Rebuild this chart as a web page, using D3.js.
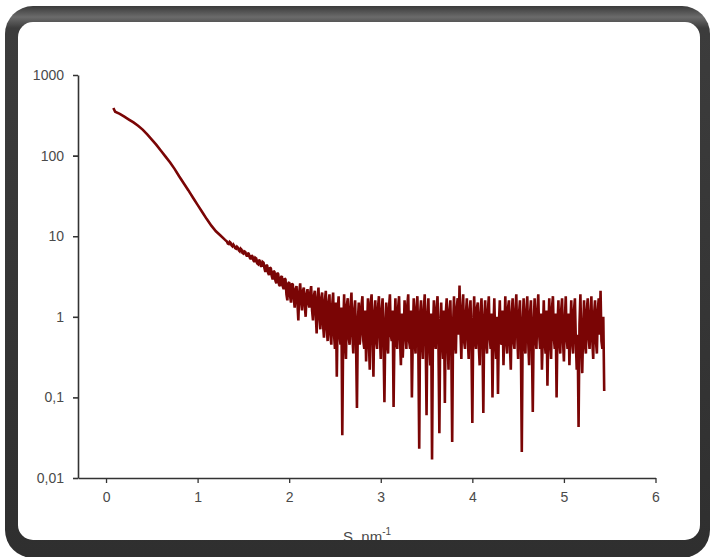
<!DOCTYPE html>
<html>
<head>
<meta charset="utf-8">
<script src="https://cdn.jsdelivr.net/npm/d3@7"></script>
<style>
  html, body { margin: 0; padding: 0; background: #ffffff; }
  svg { display: block; }
</style>
</head>
<body>
<svg id="chart" width="712" height="557"></svg>
<script>
// ---- data ----
const xTicks = [0, 1, 2, 3, 4, 5, 6];
const xTickLabels = ["0", "1", "2", "3", "4", "5", "6"];
const yTicks = [0.01, 0.1, 1, 10, 100, 1000];
const yTickLabels = ["0,01", "0,1", "1", "10", "100", "1000"];

// smooth (low-angle) part of the curve
const sSmooth = [0.08, 0.10, 0.15, 0.20, 0.25, 0.30, 0.35, 0.40, 0.45, 0.50,
                 0.55, 0.60, 0.65, 0.70, 0.75, 0.80, 0.85, 0.90, 0.95, 1.00,
                 1.05, 1.10, 1.15, 1.20, 1.25, 1.30];
const iSmooth = [390, 350, 330, 305, 280, 258, 235, 210, 183, 158,
                 136, 115, 97, 82, 68, 55, 45, 37, 30, 24.5,
                 20, 16.3, 13.5, 11.5, 10.2, 9.0];

// noisy (wide-angle) part of the curve
const sNoisy = [
  1.32,1.33,1.34,1.35,1.36,1.37,1.38,1.39,1.40,1.41,1.42,1.43,1.44,1.45,1.46,1.47,1.48,1.49,1.50,1.51,
  1.52,1.53,1.54,1.55,1.56,1.57,1.58,1.59,1.60,1.61,1.62,1.63,1.64,1.65,1.66,1.67,1.68,1.69,1.70,1.71,
  1.72,1.73,1.74,1.75,1.76,1.77,1.78,1.79,1.80,1.81,1.82,1.83,1.84,1.85,1.86,1.87,1.88,1.89,1.90,1.91,
  1.92,1.93,1.94,1.95,1.96,1.97,1.98,1.99,2.00,2.01,2.02,2.03,2.04,2.05,2.06,2.07,2.08,2.09,2.10,2.11,
  2.12,2.13,2.14,2.15,2.16,2.17,2.18,2.19,2.20,2.21,2.22,2.23,2.24,2.25,2.26,2.27,2.28,2.29,2.30,2.31,
  2.32,2.33,2.34,2.35,2.36,2.37,2.38,2.39,2.40,2.41,2.42,2.43,2.44,2.45,2.46,2.47,2.48,2.49,2.50,2.51,
  2.52,2.53,2.54,2.55,2.56,2.57,2.58,2.59,2.60,2.61,2.62,2.63,2.64,2.65,2.66,2.67,2.68,2.69,2.70,2.71,
  2.72,2.73,2.74,2.75,2.76,2.77,2.78,2.79,2.80,2.81,2.82,2.83,2.84,2.85,2.86,2.87,2.88,2.89,2.90,2.91,
  2.92,2.93,2.94,2.95,2.96,2.97,2.98,2.99,3.00,3.01,3.02,3.03,3.04,3.05,3.06,3.07,3.08,3.09,3.10,3.11,
  3.12,3.13,3.14,3.15,3.16,3.17,3.18,3.19,3.20,3.21,3.22,3.23,3.24,3.25,3.26,3.27,3.28,3.29,3.30,3.31,
  3.32,3.33,3.34,3.35,3.36,3.37,3.38,3.39,3.40,3.41,3.42,3.43,3.44,3.45,3.46,3.47,3.48,3.49,3.50,3.51,
  3.52,3.53,3.54,3.55,3.56,3.57,3.58,3.59,3.60,3.61,3.62,3.63,3.64,3.65,3.66,3.67,3.68,3.69,3.70,3.71,
  3.72,3.73,3.74,3.75,3.76,3.77,3.78,3.79,3.80,3.81,3.82,3.83,3.84,3.85,3.86,3.87,3.88,3.89,3.90,3.91,
  3.92,3.93,3.94,3.95,3.96,3.97,3.98,3.99,4.00,4.01,4.02,4.03,4.04,4.05,4.06,4.07,4.08,4.09,4.10,4.11,
  4.12,4.13,4.14,4.15,4.16,4.17,4.18,4.19,4.20,4.21,4.22,4.23,4.24,4.25,4.26,4.27,4.28,4.29,4.30,4.31,
  4.32,4.33,4.34,4.35,4.36,4.37,4.38,4.39,4.40,4.41,4.42,4.43,4.44,4.45,4.46,4.47,4.48,4.49,4.50,4.51,
  4.52,4.53,4.54,4.55,4.56,4.57,4.58,4.59,4.60,4.61,4.62,4.63,4.64,4.65,4.66,4.67,4.68,4.69,4.70,4.71,
  4.72,4.73,4.74,4.75,4.76,4.77,4.78,4.79,4.80,4.81,4.82,4.83,4.84,4.85,4.86,4.87,4.88,4.89,4.90,4.91,
  4.92,4.93,4.94,4.95,4.96,4.97,4.98,4.99,5.00,5.01,5.02,5.03,5.04,5.05,5.06,5.07,5.08,5.09,5.10,5.11,
  5.12,5.13,5.14,5.15,5.16,5.17,5.18,5.19,5.20,5.21,5.22,5.23,5.24,5.25,5.26,5.27,5.28,5.29,5.30,5.31,
  5.32,5.33,5.34,5.35,5.36,5.37,5.38,5.39,5.40,5.41,5.42,5.43,5.44
];
const iNoisy = [
  8.6,8.1,8.0,8.5,8.3,7.7,7.5,7.9,7.6,7.1,7.0,7.4,7.2,6.7,6.5,7.0,6.8,6.2,6.1,6.5,
  6.4,5.9,5.6,6.2,6.0,5.4,5.2,5.8,5.6,5.0,4.8,5.4,5.3,4.6,4.5,5.1,4.9,4.3,4.2,4.8,
  4.7,4.0,3.6,4.4,4.3,3.5,3.3,4.1,4.0,3.2,2.9,3.7,3.6,2.8,2.6,3.5,3.4,2.5,2.4,3.1,
  3.2,2.4,2.2,3.0,2.9,1.9,1.6,2.6,2.7,1.8,1.5,2.6,2.5,1.7,1.3,2.2,2.4,1.5,0.9,2.0,
  2.6,1.6,1.2,2.1,2.3,1.4,1.0,1.9,2.2,1.5,1.3,2.0,2.4,1.2,0.9,1.8,2.1,1.1,0.62,1.7,
  2.3,1.0,0.7,1.7,2.0,0.8,0.55,1.6,2.1,0.7,0.5,1.5,1.9,0.6,0.45,1.4,2.0,0.6,0.4,1.5,
  0.18,1.2,1.8,0.6,0.45,1.3,0.034,0.7,1.9,0.5,0.3,1.4,1.7,0.55,0.45,1.3,2.0,0.6,0.35,1.2,
  1.6,0.5,0.074,0.9,1.5,0.45,0.6,1.4,1.8,0.5,0.4,1.2,0.28,0.7,1.7,0.5,0.22,1.5,1.9,0.6,
  0.18,1.1,1.6,0.5,0.4,1.3,1.8,0.6,0.3,1.2,1.7,0.5,0.087,0.8,1.5,0.45,0.35,1.3,1.9,0.6,
  0.5,1.2,0.076,0.7,1.7,0.5,0.4,1.3,1.8,0.55,0.25,1.1,0.31,0.6,1.6,0.7,0.4,1.4,1.9,0.5,
  0.4,1.2,0.10,0.6,1.7,0.5,0.35,1.3,1.8,0.45,0.023,1.1,1.6,0.5,0.3,1.2,1.9,0.6,0.06,1.0,
  1.7,0.5,0.25,1.1,0.017,0.7,1.6,0.5,0.4,1.3,1.8,0.45,0.036,0.8,1.5,0.5,0.3,1.2,0.085,1.1,
  1.7,0.5,0.22,1.2,1.6,0.45,0.028,0.8,1.8,0.5,0.35,1.3,1.7,0.6,2.45,0.7,0.3,1.2,1.9,0.5,
  0.4,1.1,1.7,0.55,0.3,1.2,1.6,0.45,0.048,0.8,1.8,0.5,0.4,1.3,1.5,0.45,0.25,1.1,1.7,0.6,
  0.064,0.9,1.6,0.5,0.35,1.2,1.8,0.55,0.4,1.1,0.10,0.7,1.7,0.5,0.3,1.0,0.11,0.8,1.6,0.5,
  0.45,1.2,0.25,0.7,1.8,0.5,0.35,1.3,1.6,0.45,0.22,1.1,1.7,0.5,0.4,1.2,1.9,0.6,0.3,1.1,
  1.6,0.5,0.021,0.8,1.7,0.45,0.35,1.2,1.8,0.5,0.25,1.1,1.6,0.5,0.066,0.8,1.7,0.55,0.4,1.2,
  1.9,0.6,0.4,1.1,0.22,0.6,1.6,0.5,0.35,1.2,0.14,0.7,1.7,0.5,0.3,1.3,1.8,0.55,0.4,1.1,
  0.10,0.8,1.6,0.5,0.35,1.2,1.7,0.5,0.28,0.9,1.8,0.55,0.4,1.1,0.25,0.7,1.6,0.5,0.35,1.2,
  1.7,0.5,0.22,0.6,0.043,0.8,1.9,0.5,0.2,0.7,1.6,0.45,0.35,1.2,1.7,0.55,0.4,1.1,1.8,0.5,
  0.3,1.1,1.6,0.5,0.35,1.2,1.7,0.6,2.1,0.5,0.4,1.0,0.12
];

// ---- drawing ----
const svg = d3.select("#chart");

// frame background
const defs = svg.append("defs");
const grad = defs.append("linearGradient").attr("id", "frameGrad")
  .attr("x1", 0).attr("y1", 0).attr("x2", 0).attr("y2", 1);
grad.append("stop").attr("offset", "0%").attr("stop-color", "#3a3a3a");
grad.append("stop").attr("offset", "2%").attr("stop-color", "#6b6b6b");
grad.append("stop").attr("offset", "4%").attr("stop-color", "#3c3c3c");
grad.append("stop").attr("offset", "100%").attr("stop-color", "#2f2f2f");

const frameOuter = {x: 5, y: 6, w: 705, h: 552, r: 28};
const frameInner = {x: 18, y: 22, w: 682, h: 518, r: 15};

svg.append("rect")
  .attr("x", frameOuter.x).attr("y", frameOuter.y)
  .attr("width", frameOuter.w).attr("height", frameOuter.h)
  .attr("rx", frameOuter.r).attr("ry", frameOuter.r)
  .attr("fill", "url(#frameGrad)");

svg.append("rect")
  .attr("x", frameInner.x).attr("y", frameInner.y)
  .attr("width", frameInner.w).attr("height", frameInner.h)
  .attr("rx", frameInner.r).attr("ry", frameInner.r)
  .attr("fill", "#ffffff");

const clip = defs.append("clipPath").attr("id", "innerClip");
clip.append("rect")
  .attr("x", frameInner.x).attr("y", frameInner.y)
  .attr("width", frameInner.w).attr("height", frameInner.h)
  .attr("rx", frameInner.r).attr("ry", frameInner.r);

const g = svg.append("g").attr("clip-path", "url(#innerClip)");

// scales
const x = d3.scaleLinear().domain([-0.306, 6]).range([78, 655.5]);
const y = d3.scaleLog().domain([0.01, 1000]).range([478, 75]);

const fontFamily = "'Liberation Sans', Arial, sans-serif";
const textColor = "#4a4a4a";
const axisColor = "#333333";

// x axis
const xAxis = d3.axisBottom(x)
  .tickValues(xTicks)
  .tickFormat((d, i) => xTickLabels[i])
  .tickSizeInner(5).tickSizeOuter(0).tickPadding(9);
const gx = g.append("g").attr("transform", `translate(0,${y(0.01)})`).call(xAxis);
gx.select(".domain").attr("stroke", axisColor).attr("stroke-width", 1.6);
gx.selectAll(".tick line").attr("stroke", axisColor).attr("stroke-width", 1.3);
gx.selectAll(".tick text").attr("fill", textColor)
  .style("font-family", fontFamily).style("font-size", "14px");

// y axis
const yAxis = d3.axisLeft(y)
  .tickValues(yTicks)
  .tickFormat((d, i) => yTickLabels[i])
  .tickSizeInner(5).tickSizeOuter(0).tickPadding(9);
const gy = g.append("g").attr("transform", `translate(${x(-0.306)},0)`).call(yAxis);
gy.select(".domain").attr("stroke", axisColor).attr("stroke-width", 1.6);
gy.selectAll(".tick line").attr("stroke", axisColor).attr("stroke-width", 1.6);
gy.selectAll(".tick text").attr("fill", textColor)
  .style("font-family", fontFamily).style("font-size", "14px");

// data line
const data = sSmooth.map((s, i) => ({s, v: iSmooth[i]}))
  .concat(sNoisy.map((s, i) => ({s, v: iNoisy[i]})));

const line = d3.line().x(d => x(d.s)).y(d => y(d.v)).curve(d3.curveLinear);
g.append("path")
  .datum(data)
  .attr("d", line)
  .attr("fill", "none")
  .attr("stroke", "#7a0505")
  .attr("stroke-width", 2.6)
  .attr("stroke-linejoin", "miter")
  .attr("stroke-miterlimit", 2);

// axis title, partly hidden behind the frame bottom
const title = g.append("text")
  .attr("x", 367).attr("y", 542)
  .attr("text-anchor", "middle")
  .attr("fill", textColor)
  .style("font-family", fontFamily).style("font-size", "15px");
title.append("tspan").text("S, nm");
title.append("tspan").attr("dy", -7).style("font-size", "10px").text("-1");
</script>
</body>
</html>
